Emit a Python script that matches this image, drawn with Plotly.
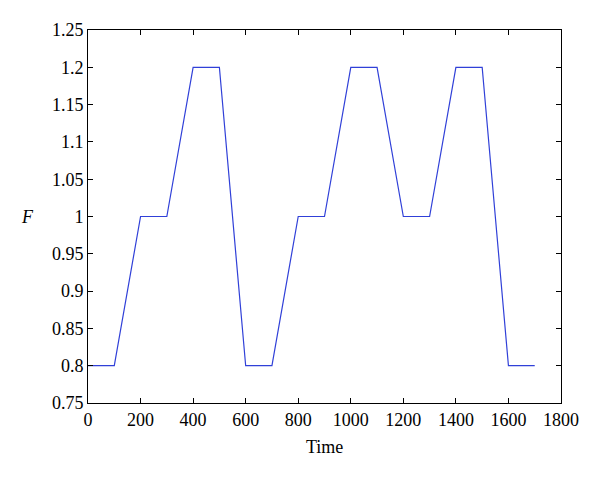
import plotly.graph_objects as go

time = [0, 100, 200, 300, 400, 500, 600, 700, 800, 900, 1000, 1100, 1200, 1300, 1400, 1500, 1600, 1700]
F = [0.8, 0.8, 1.0, 1.0, 1.2, 1.2, 0.8, 0.8, 1.0, 1.0, 1.2, 1.2, 1.0, 1.0, 1.2, 1.2, 0.8, 0.8]
xticks = [0, 200, 400, 600, 800, 1000, 1200, 1400, 1600, 1800]
yticks = [0.75, 0.8, 0.85, 0.9, 0.95, 1.0, 1.05, 1.1, 1.15, 1.2, 1.25]
ylabels = ["0.75", "0.8", "0.85", "0.9", "0.95", "1", "1.05", "1.1", "1.15", "1.2", "1.25"]

fig = go.Figure(go.Scatter(x=time, y=F, mode="lines",
                           line=dict(color="#3040d8", width=1.2)))
font = dict(family="Liberation Serif, Times New Roman, serif", size=18, color="black")
axis_common = dict(showline=True, linecolor="black", linewidth=1, mirror="ticks",
                   ticks="inside", ticklen=5, tickcolor="black", showgrid=False,
                   zeroline=False, tickfont=font)
fig.update_layout(
    width=600, height=479, plot_bgcolor="white", paper_bgcolor="white",
    margin=dict(l=80, r=47, t=22, b=84), showlegend=False, font=font,
    xaxis=dict(range=[0, 1800], tickvals=xticks, ticktext=[str(v) for v in xticks],
               title=None, **axis_common),
    yaxis=dict(range=[0.75, 1.25], tickvals=yticks, ticktext=ylabels,
               title=None, **axis_common),
)
fig.add_annotation(text="Time", xref="paper", yref="paper", x=0.5, y=0,
                   yanchor="middle", yshift=-44, showarrow=False, font=font)
fig.add_annotation(text="<i>F</i>", xref="paper", yref="paper", x=0, y=0.5,
                   xanchor="center", xshift=-61, showarrow=False, font=font)
fig.write_html("out.html")
